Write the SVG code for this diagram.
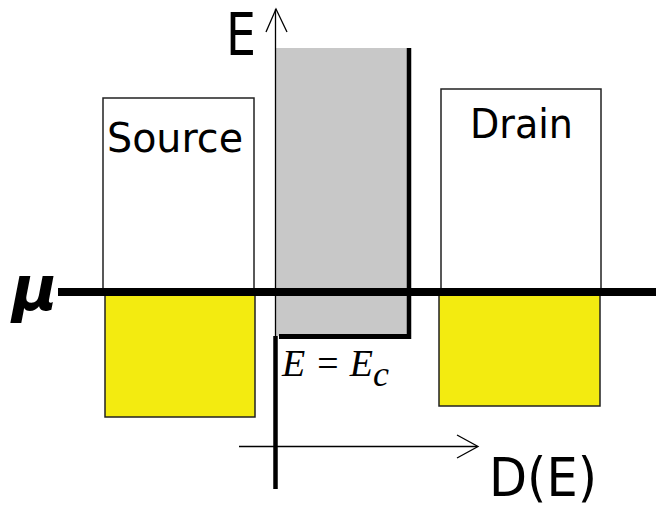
<svg xmlns="http://www.w3.org/2000/svg" width="656" height="510" viewBox="0 0 656 510">
  <defs>
    <style>
      .box { fill: #ffffff; stroke: #222; stroke-width: 1.5; }
      .fill { fill: #f3eb10; stroke: #222; stroke-width: 1.5; }
      .lbl { font-family: "DejaVu Sans", "Noto Sans", sans-serif; fill: #000; }
      .math { font-family: "Liberation Serif", "DejaVu Serif", serif; font-style: italic; fill: #000; }
      .thin { stroke: #000; stroke-width: 1.3; fill: none; }
      .thick { stroke: #000; fill: none; }
    </style>
  </defs>
  <rect width="656" height="510" fill="#ffffff"/>

  <g id="channel">
    <rect x="276" y="48" width="132" height="288" fill="#c8c8c8"/>
    <line class="thick" x1="409" y1="48" x2="409" y2="339" stroke-width="4.5"/>
    <line class="thick" x1="279" y1="336.5" x2="411" y2="336.5" stroke-width="5"/>
  </g>

  <g id="source">
    <rect class="box" x="103" y="98" width="151" height="194"/>
    <rect class="fill" x="105" y="295" width="150" height="122"/>
    <text class="lbl" x="107" y="152" font-size="40" textLength="136" lengthAdjust="spacingAndGlyphs">Source</text>
  </g>

  <g id="drain">
    <rect class="box" x="441" y="89" width="160" height="203"/>
    <rect class="fill" x="439" y="295" width="161" height="111"/>
    <text class="lbl" x="470" y="138" font-size="40" textLength="103" lengthAdjust="spacingAndGlyphs">Drain</text>
  </g>

  <g id="connectors">
    <!-- E axis -->
    <line class="thin" x1="275.5" y1="9" x2="275.5" y2="336"/>
    <polyline class="thin" points="266,32 276,9 287,32"/>
    <line class="thick" x1="275.5" y1="336" x2="275.5" y2="489" stroke-width="4.5"/>
    <!-- D(E) axis -->
    <line class="thin" x1="239" y1="446.5" x2="477" y2="446.5"/>
    <polyline class="thin" points="457,435 478,446.5 457,458"/>
    <!-- mu line -->
    <line class="thick" x1="58" y1="292" x2="656" y2="292" stroke-width="8"/>
  </g>

  <g id="labels">
    <text class="lbl" x="226" y="55" font-size="58" textLength="30" lengthAdjust="spacingAndGlyphs">E</text>
    <text class="lbl" x="12" y="310" font-size="62" font-style="italic" font-weight="bold">μ</text>
    <text class="lbl" x="489" y="496" font-size="54" textLength="108" lengthAdjust="spacingAndGlyphs">D(E)</text>
    <text class="math" x="282" y="376" font-size="38">E = E<tspan font-size="36" dy="10">c</tspan></text>
  </g>
</svg>
